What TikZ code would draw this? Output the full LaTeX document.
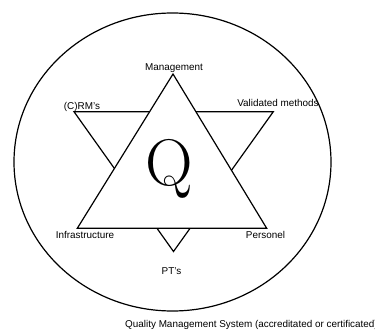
\documentclass[tikz,border=0pt]{standalone}
\usepackage{fontspec}
\setmainfont{Liberation Sans}
\newfontfamily\lmroman{Latin Modern Roman}
\begin{document}
\begin{tikzpicture}[x=1pt,y=-1pt,
  shape line/.style={line width=1.2pt, line join=miter},
  lbl/.style={inner sep=0pt, anchor=base, font=\fontsize{9.9}{11}\selectfont}]
\useasboundingbox (0,0) rectangle (375,331);
% outer ellipse
\draw[shape line] (172.5,162) ellipse [x radius=158.5pt, y radius=149pt];
% triangle corners
\coordinate (A) at (173,74);
\coordinate (B) at (77.3,228.3);
\coordinate (C) at (266.7,228.3);
\coordinate (D) at (74,111.7);
\coordinate (E) at (273.3,111.7);
\coordinate (F) at (173.5,251.5);
% downward triangle behind, upward triangle in front (white filled)
\draw[shape line] (D) -- (E) -- (F) -- cycle;
\draw[shape line, fill=white] (A) -- (B) -- (C) -- cycle;
% centre letter
\node[inner sep=0pt, anchor=base] (q) at (169.5,186) {\lmroman\fontsize{66}{66}\selectfont Q};
% labels
\node[lbl] (mgmt) at (174,70.5) {Management};
\node[lbl] (crm) at (82,109.5) {(C)RM's};
\node[lbl] (val) at (278,107) {Validated methods};
\node[lbl] (inf) at (85,238.5) {Infrastructure};
\node[lbl] (pers) at (265.5,238.5) {Personel};
\node[lbl] (pt) at (171.5,274.5) {PT's};
\node[lbl, anchor=base west] (qms) at (125,327) {Quality Management System (accreditated or certificated)};
\end{tikzpicture}
\end{document}
